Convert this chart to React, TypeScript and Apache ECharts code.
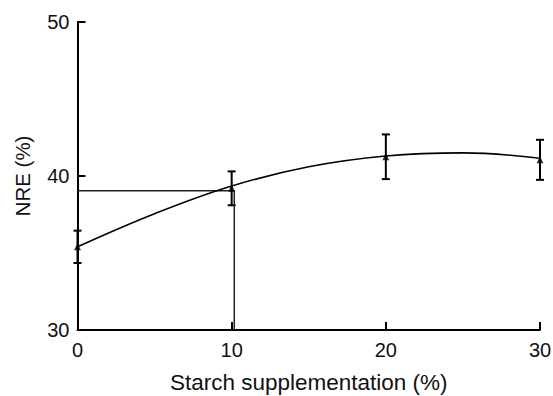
import React, { useEffect, useRef } from "react";
import * as echarts from "echarts";

const xValues = [0, 10, 20, 30];
const meanNRE = [35.4, 39.2, 41.25, 41.05];
const errNRE = [1.05, 1.1, 1.45, 1.3];
// fitted curve
const curveX = [0, 5, 10, 15, 20, 25, 30];
const curveY = [35.4, 37.55, 39.35, 40.6, 41.3, 41.5, 41.15];
// reference (drop) lines
const refLine = [
  [0, 39.05],
  [10.17, 39.05],
  [10.17, 30],
];
const xTicks = [0, 30, 10];
const yTicks = [30, 50, 10];

export default function App() {
  const ref = useRef<HTMLDivElement>(null);
  useEffect(() => {
    if (!ref.current) return;
    const chart = echarts.init(ref.current, null, { renderer: "svg" });
    const font = "'Liberation Sans', Arial, sans-serif";
    const pts = xValues.map((x, i) => [x, meanNRE[i]]);
    const errData = xValues.map((x, i) => [x, meanNRE[i] - errNRE[i], meanNRE[i] + errNRE[i]]);
    chart.setOption({
      animation: false,
      grid: { left: 77.5, width: 462.5, top: 22, height: 308, outerBoundsMode: "none", containLabel: false },
      xAxis: {
        type: "value",
        min: xTicks[0],
        max: xTicks[1],
        interval: xTicks[2],
        name: "Starch supplementation (%)",
        nameLocation: "middle",
        nameGap: 41,
        nameTextStyle: { fontFamily: font, fontSize: 22.5, color: "#111" },
        axisLine: { lineStyle: { color: "#000", width: 2 } },
        axisTick: { inside: true, length: 8, lineStyle: { color: "#000", width: 2 } },
        axisLabel: { fontFamily: font, fontSize: 20, color: "#111", margin: 10 },
        splitLine: { show: false },
      },
      yAxis: {
        type: "value",
        min: yTicks[0],
        max: yTicks[1],
        interval: yTicks[2],
        name: "NRE (%)",
        nameLocation: "middle",
        nameGap: 45,
        nameTextStyle: { fontFamily: font, fontSize: 20.5, color: "#111" },
        axisLine: { show: true, lineStyle: { color: "#000", width: 2 } },
        axisTick: { show: true, inside: true, length: 8, lineStyle: { color: "#000", width: 2 } },
        axisLabel: { fontFamily: font, fontSize: 20, color: "#111", margin: 8 },
        splitLine: { show: false },
      },
      series: [
        {
          type: "line",
          data: refLine,
          symbol: "none",
          lineStyle: { color: "#222", width: 1.5 },
          silent: true,
        },
        {
          type: "line",
          data: curveX.map((x, i) => [x, curveY[i]]),
          smooth: 0.4,
          symbol: "none",
          lineStyle: { color: "#000", width: 1.6 },
          silent: true,
        },
        {
          type: "custom",
          data: errData,
          renderItem: (params: any, api: any) => {
            const x = api.value(0);
            const lo = api.coord([x, api.value(1)]);
            const hi = api.coord([x, api.value(2)]);
            const hw = 4;
            const style = { stroke: "#000", lineWidth: 2 };
            return {
              type: "group",
              children: [
                { type: "line", shape: { x1: lo[0], y1: lo[1], x2: hi[0], y2: hi[1] }, style },
                { type: "line", shape: { x1: lo[0] - hw, y1: lo[1], x2: lo[0] + hw, y2: lo[1] }, style },
                { type: "line", shape: { x1: hi[0] - hw, y1: hi[1], x2: hi[0] + hw, y2: hi[1] }, style },
              ],
            };
          },
          z: 3,
        },
        {
          type: "scatter",
          data: pts,
          symbol: "triangle",
          symbolSize: 7,
          itemStyle: { color: "#000" },
          z: 4,
        },
      ],
    });
    return () => chart.dispose();
  }, []);
  return (
    <div
      ref={ref}
      style={{ position: "fixed", left: 0, top: 0, width: 553, height: 396, background: "#fff" }}
    />
  );
}
